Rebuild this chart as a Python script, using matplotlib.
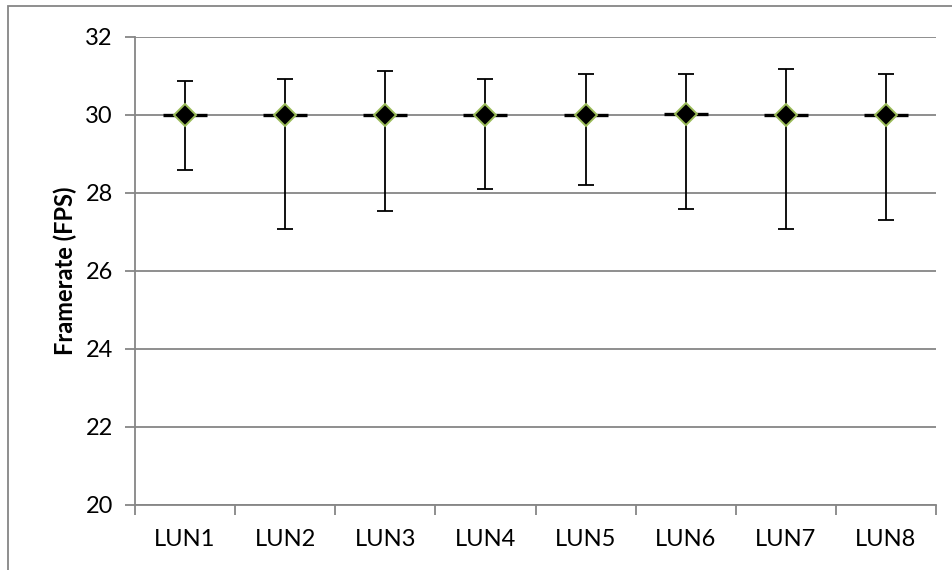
import matplotlib.pyplot as plt
from matplotlib.patches import Rectangle

# data
luns = ['LUN1', 'LUN2', 'LUN3', 'LUN4', 'LUN5', 'LUN6', 'LUN7', 'LUN8']
mean_fps = [30.01, 29.99, 29.99, 30.01, 29.99, 30.02, 29.99, 29.99]
max_fps = [30.88, 30.92, 31.14, 30.92, 31.06, 31.04, 31.19, 31.06]
min_fps = [28.59, 27.07, 27.55, 28.10, 28.20, 27.60, 27.08, 27.32]

grey = '#868686'

fig = plt.figure(figsize=(9.53, 5.70), dpi=100)
plt.rcParams['font.family'] = ['Lato', 'DejaVu Sans']

ax = fig.add_axes([135 / 953, 1 - 505 / 570, (936 - 135) / 953, (505 - 37) / 570])

x = list(range(len(luns)))
err_low = [m - lo for m, lo in zip(mean_fps, min_fps)]
err_high = [hi - m for m, hi in zip(mean_fps, max_fps)]

ax.errorbar(x, mean_fps, yerr=[err_low, err_high], fmt='none',
            ecolor='black', elinewidth=1.3, capsize=6, capthick=1.3, zorder=3)
# short black dash through each point
ax.plot(x, mean_fps, linestyle='none', marker='_', markersize=32,
        markeredgewidth=2.4, color='black', zorder=4)
ax.plot(x, mean_fps, linestyle='none', marker='D', markersize=11.5,
        markerfacecolor='black', markeredgecolor='#9BBB59',
        markeredgewidth=1.4, zorder=5)

ax.set_xlim(-0.5, len(luns) - 0.5)
ax.set_ylim(20, 32)
ax.set_yticks([20, 22, 24, 26, 28, 30, 32])
ax.yaxis.grid(True, color=grey, linewidth=1.3)
ax.set_axisbelow(True)

ax.set_xticks(x)
ax.set_xticklabels(luns)
ax.set_xticks([i + 0.5 for i in range(-1, len(luns))], minor=True)
ax.tick_params(axis='x', which='major', length=0, pad=17, labelsize=17)
ax.tick_params(axis='x', which='minor', length=7, width=1.3, color=grey, direction='out')
ax.tick_params(axis='y', length=7, width=1.3, color=grey, direction='out', pad=9, labelsize=17)

for side in ['top', 'right']:
    ax.spines[side].set_visible(False)
for side in ['left', 'bottom']:
    ax.spines[side].set_color(grey)
    ax.spines[side].set_linewidth(1.3)

ax.set_ylabel('Framerate (FPS)', fontsize=17, fontweight='bold', labelpad=6)

# chart-area border (runs off the right and bottom edges)
fig.patches.append(Rectangle((8 / 953, -0.1), 1.2, 1 - 6 / 570 + 0.1,
                             transform=fig.transFigure, fill=False,
                             edgecolor=grey, linewidth=1.3))

plt.savefig('out.png', dpi=100)
